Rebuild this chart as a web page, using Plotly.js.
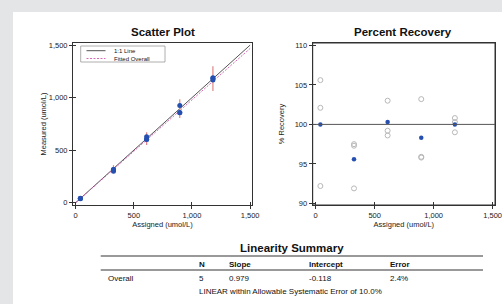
<!DOCTYPE html>
<html>
<head>
<meta charset="utf-8">
<script src="https://cdn.plot.ly/plotly-3.0.1.min.js"></script>
<style>
html,body{margin:0;padding:0;background:#e4e5e7;width:502px;height:304px;overflow:hidden;}
#chart{position:absolute;left:13px;top:12px;width:489px;height:292px;background:#fff;}
</style>
</head>
<body>
<div id="chart"></div>
<script>
// ---- data ----
const assigned = [40, 325, 610, 895, 1180];
const measuredRep1 = [42, 317, 628, 924, 1189];
const measuredRep2 = [41, 316, 605, 858, 1184];
const measuredRep3 = [37, 299, 601, 857, 1168];
const recoveryRep1 = [105.6, 97.5, 103.0, 103.2, 100.8];
const recoveryRep2 = [102.1, 97.3, 99.2, 95.9, 100.3];
const recoveryRep3 = [92.2, 91.9, 98.6, 95.8, 99.0];
const recoveryMean = [100.0, 95.6, 100.3, 98.3, 100.0];
const allowableErrorPct = 10.0;
const identityX = [0, 1500];
const legendLabels = ["1:1 Line", "Fitted Overall"];
const summaryLabel = ["Overall"];
const summaryN = [5];
const summarySlope = [0.979];
const summaryIntercept = [-0.118];
const summaryError = ["2.4%"];
const tickVals = [0, 500, 1000, 1500];
const recTicks = [90, 95, 100, 105, 110];

const W = 489, H = 292;
const px = x => x / W;
const py = y => 1 - y / H;
const FONT = 'Liberation Sans, Arial, sans-serif';

const repX = [].concat(assigned, assigned, assigned);
const measAll = [].concat(measuredRep1, measuredRep2, measuredRep3);
const recAll = [].concat(recoveryRep1, recoveryRep2, recoveryRep3);
const errSize = assigned.map(a => a * allowableErrorPct / 100);
const fitY = identityX.map(x => summarySlope[0] * x + summaryIntercept[0]);

const identityColor = '#555';
const fitColor = '#d66ab8';
const fitDash = '2px,1.5px';

const traces = [
  {x: identityX, y: identityX, mode: 'lines', name: legendLabels[0],
   line: {color: identityColor, width: 1}, xaxis: 'x', yaxis: 'y'},
  {x: identityX, y: fitY, mode: 'lines', name: legendLabels[1],
   line: {color: fitColor, width: 1, dash: fitDash}, xaxis: 'x', yaxis: 'y'},
  {x: assigned, y: assigned, mode: 'markers',
   marker: {size: 1, color: 'rgba(0,0,0,0)'},
   error_y: {type: 'data', array: errSize, visible: true, color: '#e08585', thickness: 1.2, width: 0},
   xaxis: 'x', yaxis: 'y'},
  {x: repX, y: measAll, mode: 'markers',
   marker: {size: 5, color: '#2650b0'}, xaxis: 'x', yaxis: 'y'},
  {x: repX, y: recAll, mode: 'markers',
   marker: {size: 5, symbol: 'circle-open', color: '#b8b8b8', line: {width: 1}}, xaxis: 'x2', yaxis: 'y2'},
  {x: assigned, y: recoveryMean, mode: 'markers',
   marker: {size: 4.5, color: '#2650b0'}, xaxis: 'x2', yaxis: 'y2'}
];

const tickFont = {family: FONT, size: 7.5, color: '#222'};
const titleFont = {family: FONT, size: 7.5, color: '#222'};
const axBase = {
  showgrid: false, zeroline: false, showline: true, mirror: true,
  linecolor: '#333', linewidth: 1, ticks: 'outside', ticklen: 3, tickcolor: '#333',
  tickfont: tickFont, ticklabeloverflow: 'allow'
};
const innerTicks = vals => ({tickvals: vals, ticks: 'inside', ticklen: 3, tickcolor: '#333', showgrid: false});

const yDom = [py(193), py(31)];
const layout = {
  width: W, height: H,
  margin: {l: 0, r: 0, t: 0, b: 0},
  paper_bgcolor: '#fff', plot_bgcolor: '#fff',
  font: {family: FONT, color: '#222'},
  showlegend: false,
  xaxis: Object.assign({}, axBase, {domain: [px(60), px(239)], range: [-23, 1516],
    tickvals: tickVals, tickformat: ',', anchor: 'y', minor: innerTicks(tickVals),
    title: {text: 'Assigned (umol/L)', font: titleFont, standoff: 2}}),
  yaxis: Object.assign({}, axBase, {domain: yDom, range: [-22, 1520],
    tickvals: tickVals, tickformat: ',', anchor: 'x', minor: innerTicks(tickVals),
    title: {text: 'Measured (umol/L)', font: titleFont, standoff: 1}}),
  xaxis2: Object.assign({}, axBase, {domain: [px(299.7), px(482)], range: [-25, 1520],
    tickvals: tickVals, tickformat: ',', anchor: 'y2', minor: innerTicks(tickVals),
    title: {text: 'Assigned (umol/L)', font: titleFont, standoff: 2}}),
  yaxis2: Object.assign({}, axBase, {domain: yDom, range: [89.8, 110.3],
    tickvals: recTicks, anchor: 'x2', minor: innerTicks(recTicks),
    title: {text: '% Recovery', font: titleFont, standoff: 9}}),
  shapes: [
    {type: 'rect', xref: 'x2 domain', yref: 'y2 domain', x0: 0, x1: 1, y0: 0, y1: 1,
     line: {color: '#333', width: 1}},
    {type: 'line', xref: 'x2 domain', yref: 'y2', x0: 0, x1: 1, y0: 100, y1: 100,
     line: {color: '#555', width: 1}},
    {type: 'line', xref: 'paper', yref: 'paper', x0: px(87.7), x1: px(470), y0: py(244), y1: py(244),
     line: {color: '#777', width: 1.5}},
    {type: 'line', xref: 'paper', yref: 'paper', x0: px(87.7), x1: px(470), y0: py(258), y1: py(258),
     line: {color: '#777', width: 1.5}},
    // legend box and samples
    {type: 'rect', xref: 'paper', yref: 'paper', x0: px(67.7), x1: px(152), y0: py(34), y1: py(50),
     line: {color: '#999', width: 0.8}, fillcolor: '#fff'},
    {type: 'line', xref: 'paper', yref: 'paper', x0: px(73.5), x1: px(92.5), y0: py(38.7), y1: py(38.7),
     line: {color: identityColor, width: 1}},
    {type: 'line', xref: 'paper', yref: 'paper', x0: px(73.5), x1: px(92.5), y0: py(46.5), y1: py(46.5),
     line: {color: fitColor, width: 1, dash: fitDash}}
  ],
  annotations: []
};

const ann = (text, x, y, xanchor, size, bold) => layout.annotations.push({
  text: bold ? '<b>' + text + '</b>' : text, xref: 'paper', yref: 'paper',
  x: px(x), y: py(y), xanchor: xanchor, yanchor: 'middle', showarrow: false,
  font: {size: size, color: '#111', family: FONT}
});

ann(legendLabels[0], 98.7, 38.7, 'left', 6, false);
ann(legendLabels[1], 98.7, 46.5, 'left', 6, false);
ann('Scatter Plot', 150, 20, 'center', 11.5, true);
ann('Percent Recovery', 390, 20, 'center', 11.5, true);
ann('Linearity Summary', 278.7, 236, 'center', 11.5, true);
ann('N', 188.7, 252, 'center', 8, true);
ann('Slope', 213.7, 252, 'left', 8, true);
ann('Intercept', 293.7, 252, 'left', 8, true);
ann('Error', 375, 252, 'left', 8, true);
ann(summaryLabel[0], 92.7, 266, 'left', 8, false);
ann(String(summaryN[0]), 188.7, 266, 'center', 8, false);
ann(summarySlope[0].toFixed(3), 213.7, 266, 'left', 8, false);
ann(summaryIntercept[0].toFixed(3), 293.7, 266, 'left', 8, false);
ann(summaryError[0], 375, 266, 'left', 8, false);
ann('LINEAR within Allowable Systematic Error of ' + allowableErrorPct.toFixed(1) + '%', 277, 279, 'center', 8, false);

Plotly.newPlot('chart', traces, layout, {displayModeBar: false, staticPlot: true});
</script>
</body>
</html>
